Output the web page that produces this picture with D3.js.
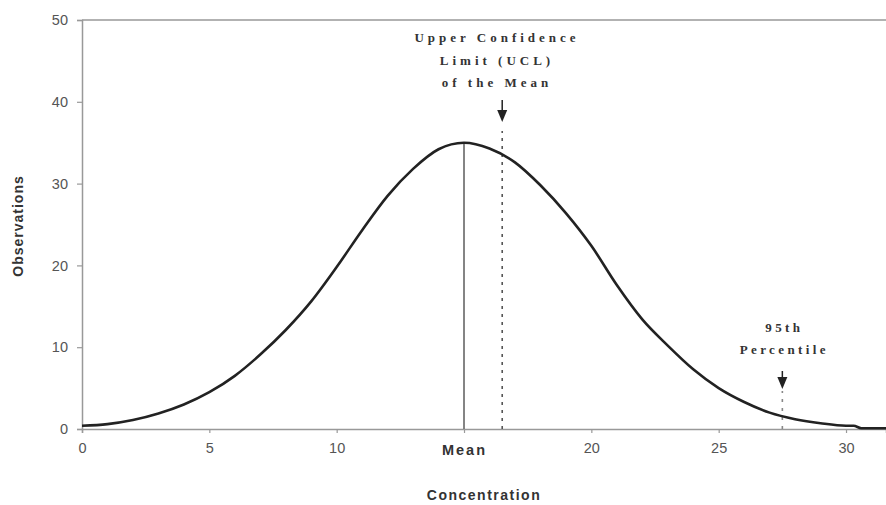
<!DOCTYPE html>
<html><head><meta charset="utf-8">
<script src="https://cdn.jsdelivr.net/npm/d3@7"></script>
<style>
body{margin:0;background:#fff;}
svg{display:block;}
</style></head>
<body>
<svg id="chart" width="886" height="505"></svg>
<script>
// Data
const concentration = [0,1,2,3,4,5,6,7,8,9,10,11,12,13,14,15,16,17,18,19,20,21,22,23,24,25,26,27,28,29,30,30.3,30.6,31.57];
const observations  = [0.4,0.6,1.1,1.9,3.0,4.5,6.5,9.1,12.1,15.6,19.8,24.3,28.5,31.8,34.2,35.0,34.3,32.6,29.8,26.4,22.4,17.6,13.4,10.2,7.3,5.0,3.3,2.0,1.2,0.7,0.4,0.4,0.1,0.1];
const xTicks = [0,5,10,15,20,25,30];
const yTicks = [0,10,20,30,40,50];
const meanValue = 15;
const uclValue = 16.5;
const p95Value = 27.5;
const uclLabel = ["Upper Confidence","Limit (UCL)","of the Mean"];
const p95Label = ["95th","Percentile"];

const svg = d3.select("#chart");
const xMax = 31.57;
const x = d3.scaleLinear().domain([0,xMax]).range([82,886]);
const y = d3.scaleLinear().domain([0,50]).range([429,20]);
const axisColor = "#999";
const labelColor = "#555";

// top frame line
svg.append("line").attr("x1",x(0)).attr("x2",x(xMax)).attr("y1",y(50)).attr("y2",y(50))
  .attr("stroke",axisColor).attr("stroke-width",1.5);

// y axis
const gy = svg.append("g").attr("transform",`translate(${x(0)},0)`)
  .call(d3.axisLeft(y).tickValues(yTicks).tickSize(5).tickPadding(9));
gy.select(".domain").attr("stroke",axisColor).attr("stroke-width",1.5);
gy.selectAll(".tick line").attr("stroke",axisColor).attr("stroke-width",1.2);
gy.selectAll(".tick text").attr("fill",labelColor).attr("font-family","Liberation Sans, Arial, sans-serif").attr("font-size",14.5);

// x axis
const gx = svg.append("g").attr("transform",`translate(0,${y(0)})`)
  .call(d3.axisBottom(x).tickValues(xTicks).tickSize(4).tickPadding(10)
    .tickFormat(d => d === meanValue ? "Mean" : d));
gx.select(".domain").attr("stroke",axisColor).attr("stroke-width",1.5);
gx.selectAll(".tick line").attr("stroke",axisColor).attr("stroke-width",1.2);
gx.selectAll(".tick text").attr("fill",labelColor).attr("font-family","Liberation Sans, Arial, sans-serif").attr("font-size",14.5)
  .filter(d => d === meanValue).attr("fill","#333").attr("font-weight","bold").attr("letter-spacing","2px").attr("dy","0.85em");

// axis titles
svg.append("text").attr("x",484).attr("y",500).attr("text-anchor","middle")
  .attr("font-family","Liberation Sans, Arial, sans-serif").attr("font-weight","bold").attr("font-size",14)
  .attr("letter-spacing","1.5px").attr("fill","#333").text("Concentration");
svg.append("text").attr("transform","translate(23,226) rotate(-90)").attr("text-anchor","middle")
  .attr("font-family","Liberation Sans, Arial, sans-serif").attr("font-weight","bold").attr("font-size",14)
  .attr("letter-spacing","1px").attr("fill","#333").text("Observations");

// mean line
const peakY = observations[concentration.indexOf(meanValue)];
svg.append("line").attr("x1",x(meanValue)).attr("x2",x(meanValue)).attr("y1",y(0)).attr("y2",y(peakY))
  .attr("stroke","#666").attr("stroke-width",1.6);

// UCL dotted line
svg.append("line").attr("x1",x(uclValue)).attr("x2",x(uclValue)).attr("y1",y(0)).attr("y2",131)
  .attr("stroke","#555").attr("stroke-width",1.6).attr("stroke-dasharray","3,5");
// 95th dotted line
svg.append("line").attr("x1",x(p95Value)).attr("x2",x(p95Value)).attr("y1",y(0)).attr("y2",391)
  .attr("stroke","#888").attr("stroke-width",1.6).attr("stroke-dasharray","3,6");

// curve
const line = d3.line().x((d,i)=>x(concentration[i])).y(d=>y(d)).curve(d3.curveMonotoneX);
svg.append("path").datum(observations).attr("d",line).attr("fill","none")
  .attr("stroke","#222").attr("stroke-width",2.6).attr("stroke-linejoin","round");

// arrows
function arrow(cx, top, headTop, tip){
  svg.append("line").attr("x1",cx).attr("x2",cx).attr("y1",top).attr("y2",headTop+2)
    .attr("stroke","#222").attr("stroke-width",1.5);
  svg.append("path").attr("d",`M${cx-5},${headTop}L${cx+5},${headTop}L${cx},${tip}Z`).attr("fill","#222");
}
arrow(x(uclValue), 100, 110, 122);
arrow(x(p95Value), 371, 377, 389);

// annotation texts
const serif = "Liberation Serif, Times New Roman, serif";
svg.append("g").selectAll("text").data(uclLabel).join("text")
  .attr("x",497).attr("y",(d,i)=>42+i*22.5).attr("text-anchor","middle")
  .attr("font-family",serif).attr("font-weight","bold").attr("font-size",13)
  .attr("letter-spacing","4px").attr("fill","#333").text(d=>d);
svg.append("g").selectAll("text").data(p95Label).join("text")
  .attr("x",x(p95Value)+2).attr("y",(d,i)=>332+i*22).attr("text-anchor","middle")
  .attr("font-family",serif).attr("font-weight","bold").attr("font-size",13)
  .attr("letter-spacing","3.4px").attr("fill","#333").text(d=>d);
</script>
</body></html>
